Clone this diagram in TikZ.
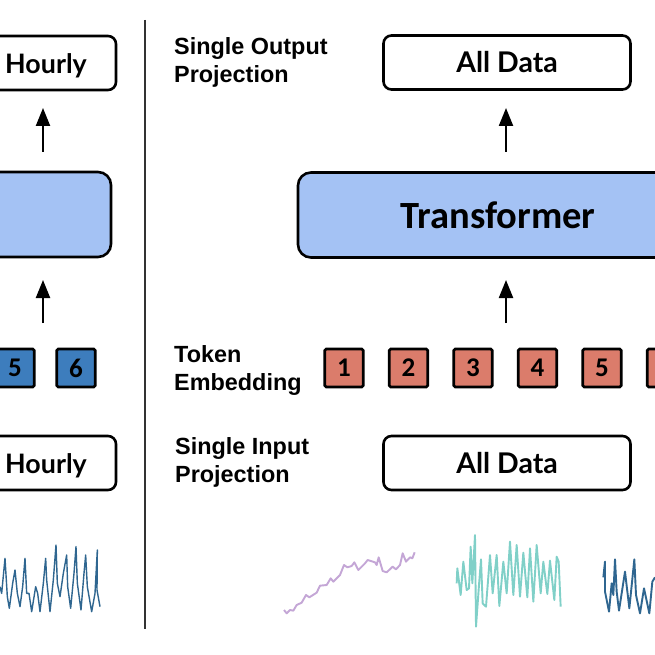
\documentclass[tikz,border=0pt]{standalone}
\usepackage{fontspec}
\setmainfont{Liberation Sans}
\newfontfamily\calib{Carlito}
\newfontfamily\hand{Lato}
\usetikzlibrary{arrows.meta}
\definecolor{tfblue}{HTML}{A4C2F4}
\definecolor{tokred}{HTML}{DB7C6B}
\definecolor{tokblue}{HTML}{3D7DBD}
\definecolor{serpurple}{HTML}{C4A6D6}
\definecolor{serteal}{HTML}{80D0C8}
\definecolor{serblue}{HTML}{2F6690}
\tikzset{
 handfont/.style={font=\hand\fontsize{28.5}{30}\selectfont\bfseries},
 hourfont/.style={font=\hand\fontsize{26.8}{30}\selectfont\bfseries},
 databox/.style={draw=black,line width=2.6pt,rounded corners=8pt,fill=white,inner sep=0pt,handfont},
 tfbox/.style={draw=black,line width=2.6pt,rounded corners=13pt,fill=tfblue,inner sep=0pt,font=\calib\fontsize{38.5}{40}\selectfont\bfseries},
 token/.style={draw=black,line width=2.6pt,rounded corners=1.5pt,minimum width=38.5pt,minimum height=38pt,inner sep=0pt,font=\calib\fontsize{27}{28}\selectfont\bfseries},
 tokr/.style={token,fill=tokred},
 tokb/.style={token,fill=tokblue},
 lab/.style={anchor=west,align=left,inner sep=0pt,font=\fontsize{23.4}{28}\selectfont\bfseries},
 flow/.style={-{Triangle[length=18pt,width=14pt]},line width=2.2pt,black},
 series/.style={line width=1.9pt,line join=round},
}
\begin{document}
\begin{tikzpicture}[x=1pt,y=-1pt]
\useasboundingbox (0,0) rectangle (655,655);
\clip (0,0) rectangle (655,655);
\fill[white] (0,0) rectangle (655,655);
% divider
\coordinate (divtop) at (145,20);
\coordinate (divbot) at (145,629);
\draw[line width=1.4pt,black!80] (divtop) -- (divbot);
% left column
\node[databox,minimum width=250pt,minimum height=54pt] (hourout) at (-9,63) {};
\node[hourfont,inner sep=0pt] (hourouttext) at (46,66) {Hourly};
\node[tfbox,minimum width=260pt,minimum height=85pt] (ltf) at (-19,214.5) {};
\node[tokb] (b5) at (15,368) {5};
\node[tokb] (b6) at (76,368) {6};
\node[databox,minimum width=250pt,minimum height=54pt] (hourin) at (-9,463) {};
\node[hourfont,inner sep=0pt] (hourintext) at (46,466) {Hourly};
\coordinate (la1) at (43,172);
\coordinate (la2) at (43,90);
\coordinate (la3) at (43,348);
\coordinate (la4) at (43,257);
\draw[flow,shorten <=20pt,shorten >=18pt] (la1) -- (la2);
\draw[flow,shorten <=25pt,shorten >=23pt] (la3) -- (la4);
% right column
\node[databox,minimum width=247pt,minimum height=54pt] (allout) at (507,62.5) {All Data};
\node[tfbox,minimum width=400pt,minimum height=85pt] (tf) at (498,215) {\raisebox{-2pt}{Transformer}};
\foreach \n/\x in {1/344,2/408.5,3/473,4/537.5,5/602}
  \node[tokr] (r\n) at (\x,368) {\n};
\node[tokr] (r6) at (666.5,368) {};
\node[databox,minimum width=247pt,minimum height=54pt] (allin) at (507,463) {All Data};
\coordinate (ra1) at (506,172);
\coordinate (ra2) at (506,90);
\coordinate (ra3) at (506,348);
\coordinate (ra4) at (506,257);
\draw[flow,shorten <=20pt,shorten >=18pt] (ra1) -- (ra2);
\draw[flow,shorten <=25pt,shorten >=23pt] (ra3) -- (ra4);
% labels
\node[lab] (l1) at (174,62.5) {Single Output\\Projection};
\node[lab] (l2) at (174,370.5) {Token\\Embedding};
\node[lab] (l3) at (175,462) {Single Input\\Projection};
% series
\begin{scope}[shift={(270,520)},scale=0.33333]
\draw[series,serpurple] (42,270)--(50,280)--(60,270)--(70,272)--(80,255)--(95,248)--(108,225)--(118,232)--(140,218)--(150,197)--(170,195)--(182,175)--(190,185)--(210,165)--(222,135)--(232,142)--(245,138)--(253,127)--(265,150)--(285,130)--(293,120)--(315,127)--(320,135)--(326,112)--(338,153)--(350,157)--(368,140)--(378,148)--(390,135)--(398,100)--(408,125)--(420,112)--(427,115)--(434,97);
\draw[series,serteal] (560,190)--(562,145)--(572,225)--(580,125)--(590,210)--(597,205)--(602,80)--(607,190)--(615,45)--(618,320)--(627,195)--(633,118)--(638,250)--(648,260)--(660,105)--(668,220)--(680,105)--(688,258)--(700,125)--(710,220)--(720,65)--(730,225)--(740,75)--(750,230)--(760,98)--(772,232)--(780,85)--(790,245)--(800,75)--(812,220)--(820,125)--(832,222)--(840,122)--(853,240)--(860,110)--(866,125)--(872,260);
\end{scope}
\begin{scope}[shift={(560,520)},scale=0.33333]
\draw[series,serblue] (130,172)--(135,125)--(135,215)--(147,275)--(155,190)--(160,225)--(165,118)--(170,215)--(177,272)--(195,155)--(208,265)--(223,118)--(228,225)--(240,280)--(252,205)--(268,280)--(277,185)--(285,172);
\end{scope}
\begin{scope}[shift={(0,330)},scale=0.33333]
\draw[line width=1.4pt,line join=round,serblue] (0,770)--(5,790)--(15,685)--(22,800)--(28,835)--(38,760)--(45,720)--(52,790)--(60,830)--(68,770)--(75,685)--(80,790)--(87,790)--(95,845)--(107,770)--(113,790)--(120,845)--(130,760)--(137,685)--(140,750)--(150,845)--(160,750)--(168,645)--(172,760)--(180,800)--(190,730)--(200,675)--(203,770)--(212,835)--(222,730)--(228,650)--(232,760)--(243,840)--(252,730)--(257,675)--(262,770)--(275,845)--(285,790)--(292,660)--(291,780)--(300,830);
\end{scope}
\end{tikzpicture}
\end{document}
